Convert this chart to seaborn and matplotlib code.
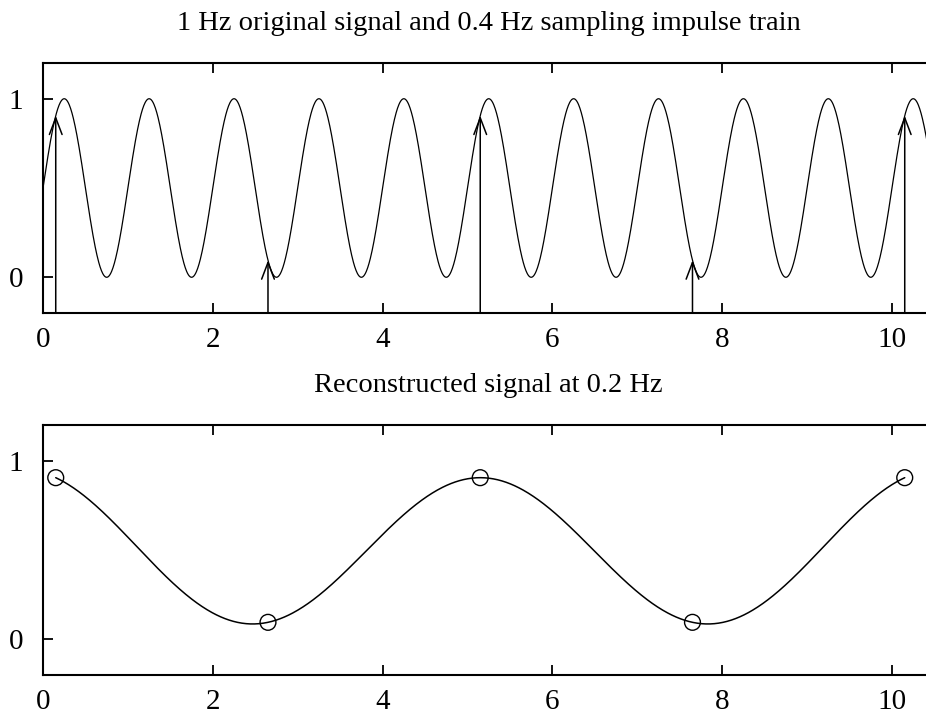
import numpy as np
import pandas as pd
import matplotlib
matplotlib.use("Agg")
import matplotlib.pyplot as plt
import seaborn as sns

# ---- data ----
signal_freq_hz = 1.0          # original signal frequency
sample_times = [0.15, 2.65, 5.15, 7.65, 10.15]   # 0.4 Hz impulse train
sample_values = [0.905, 0.095, 0.905, 0.095, 0.905]
sample_period = 2.5
x_ticks = [0, 2, 4, 6, 8, 10]
y_ticks = [0, 1]
title_top = "1 Hz original signal and 0.4 Hz sampling impulse train"
title_bottom = "Reconstructed signal at 0.2 Hz"

# original signal curve
t_sig = np.linspace(0, 10.5, 2000)
y_sig = 0.5 + 0.5 * np.sin(2 * np.pi * signal_freq_hz * t_sig)
df_sig = pd.DataFrame({"t": t_sig, "y": y_sig})

# ideal (sinc) reconstruction from the samples
t_rec = np.linspace(sample_times[0], sample_times[-1], 1000)
y_rec = np.zeros_like(t_rec)
for tn, yn in zip(sample_times, sample_values):
    y_rec += yn * np.sinc((t_rec - tn) / sample_period)
df_rec = pd.DataFrame({"t": t_rec, "y": y_rec})
df_samp = pd.DataFrame({"t": sample_times, "y": sample_values})

sns.set_theme(style="white")
plt.rcParams["font.family"] = ["Liberation Serif", "DejaVu Serif"]
plt.rcParams["text.color"] = "black"

W, H = 926, 717
fig = plt.figure(figsize=(W / 100, H / 100), dpi=100)

def px_axes(left, top, right, bottom):
    return fig.add_axes([left / W, 1 - bottom / H, (right - left) / W, (bottom - top) / H])

xmax = 10.5
ax1 = px_axes(43, 63, 43 + xmax * 84.9, 313)
ax2 = px_axes(43, 425, 43 + xmax * 84.9, 675)

sns.lineplot(data=df_sig, x="t", y="y", ax=ax1, color="black", lw=0.9, sort=False)
for tn, yn in zip(sample_times, sample_values):
    ax1.annotate("", xy=(tn, yn), xytext=(tn, -0.2),
                 arrowprops=dict(arrowstyle="->,head_length=1.0,head_width=0.38",
                                 color="black", lw=1.1, shrinkA=0, shrinkB=0))

sns.lineplot(data=df_rec, x="t", y="y", ax=ax2, color="black", lw=1.1, sort=False)
sns.scatterplot(data=df_samp, x="t", y="y", ax=ax2, marker="o", s=130,
                facecolor="none", edgecolor="black", linewidth=1.0, zorder=5)

for ax, title in [(ax1, title_top), (ax2, title_bottom)]:
    ax.set_xlim(0, xmax)
    ax.set_ylim(-0.2, 1.2)
    ax.set_xticks(x_ticks)
    ax.set_yticks(y_ticks)
    ax.set_xlabel("")
    ax.set_ylabel("")
    ax.set_title(title, fontsize=20.5, pad=24, color="black")
    ax.tick_params(axis="x", direction="in", length=7, width=1.3, top=True, bottom=True,
                   labelsize=21, pad=10, colors="black")
    ax.tick_params(axis="y", direction="in", length=7, width=1.3, left=True, right=False,
                   labelsize=21, pad=14, colors="black")
    for s in ax.spines.values():
        s.set_color("black")
        s.set_linewidth(1.5)
    ax.set_facecolor("white")

fig.savefig("out.png", dpi=100, facecolor="white")
